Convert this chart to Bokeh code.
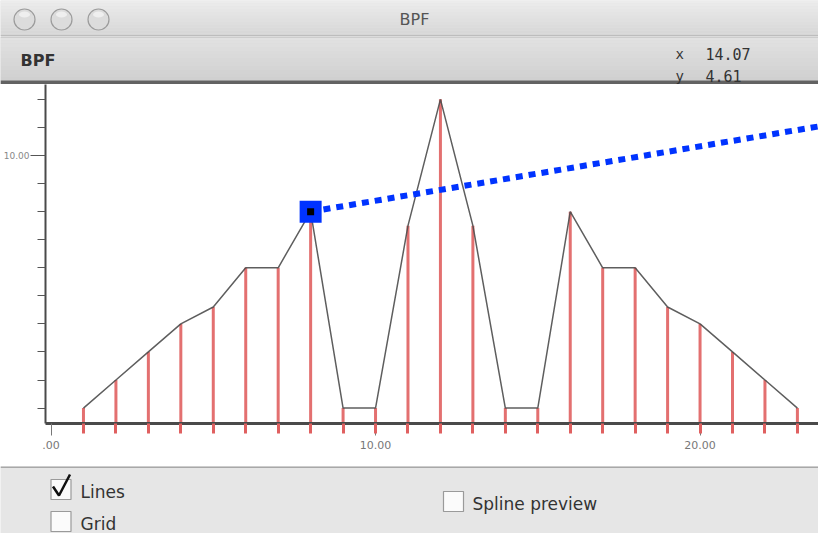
from bokeh.plotting import figure
from bokeh.layouts import column
from bokeh.models import Range1d, FixedTicker, PrintfTickFormatter
from bokeh.core.properties import value
from bokeh.embed import file_html
from bokeh.resources import INLINE

# ---------------- data ----------------
bpf_x = list(range(1, 24))
bpf_y = [1, 2, 3, 4, 4.6, 6, 6, 8, 1, 1, 7.5, 12, 7.5, 1, 1, 8, 6, 6, 4.6, 4, 3, 2, 1]
selected_index = 7
pointer_x = [8, 24.5]
pointer_y = [8, 11.2]
x_ticks = [0, 10, 20]
x_tick_overrides = {0: ".00"}
y_ticks = [10]
y_minor_ticks = list(range(1, 13))
window_title = ["BPF"]
header_title = ["BPF"]
cursor_names = ["x", "y"]
cursor_values = ["14.07", "4.61"]
checkbox_labels = ["Lines", "Grid", "Spline preview"]
checkbox_checked = [True, False, False]

W = 818
FONT = value("DejaVu Sans")
MONO = value("DejaVu Sans Mono")


def lerp_color(c0, c1, t):
    a = [int(c0[i:i + 2], 16) for i in (1, 3, 5)]
    b = [int(c1[i:i + 2], 16) for i in (1, 3, 5)]
    return "#%02x%02x%02x" % tuple(int(round(a[k] + (b[k] - a[k]) * t)) for k in range(3))


def chrome(top, bottom, bg):
    f = figure(width=W, height=bottom - top, x_range=Range1d(8, 8 + W),
               y_range=Range1d(bottom, top), min_border=0,
               x_axis_location=None, y_axis_location=None,
               toolbar_location=None, output_backend="svg", frame_align=False)
    f.grid.visible = False
    f.outline_line_color = None
    f.background_fill_color = bg
    f.border_fill_color = bg
    return f


def gradient(f, top, bottom, c0, c1, n=12):
    step = (bottom - top) / n
    tops = [top + i * step for i in range(n)]
    f.quad(left=8, right=8 + W, top=tops, bottom=[t + step for t in tops],
           fill_color=[lerp_color(c0, c1, i / (n - 1)) for i in range(n)], line_color=None)


# ---------------- title bar ----------------
t = chrome(8, 44, "#e4e4e4")
gradient(t, 8, 44, "#ececec", "#d6d6d6")
t.segment(x0=[8], y0=[43.5], x1=[8 + W], y1=[43.5], line_color="#a5a5a5", line_width=1)
t.circle(x=[32, 69, 106], y=[27, 27, 27], radius=10.5,
         fill_color="#dcdcdc", line_color="#9c9c9c", line_width=1.2)
t.ellipse(x=[32, 69, 106], y=[22, 22, 22], width=11, height=6,
          fill_color="#ffffff", fill_alpha=0.55, line_color=None)
t.text(x=[422], y=[27], text=window_title, text_font=FONT, text_font_size="16px",
       text_color="#555555", text_align="center", text_baseline="middle")

# ---------------- header ----------------
h = chrome(44, 92, "#d8d8d8")
gradient(h, 44, 88, "#e2e2e2", "#d0d0d0")
h.quad(left=8, right=8 + W, top=88, bottom=92, fill_color="#626262", line_color=None)
h.segment(x0=[8], y0=[44.5], x1=[8 + W], y1=[44.5], line_color="#b8b8b8", line_width=1)
h.text(x=[28], y=[68], text=header_title, text_font=FONT, text_font_size="16px",
       text_font_style="bold", text_color="#333333", text_align="left", text_baseline="middle")
h.text(x=[683, 683], y=[61, 83], text=cursor_names, text_font=MONO, text_font_size="14px",
       text_color="#333333", text_align="left", text_baseline="middle")
h.text(x=[713, 713], y=[61, 83], text=cursor_values, text_font=MONO, text_font_size="15px",
       text_color="#333333", text_align="left", text_baseline="middle")

# ---------------- main plot ----------------
p = figure(width=W, height=382, x_range=Range1d(-0.17, 23.65), y_range=Range1d(0.45, 12.53),
           min_border_left=44, min_border_right=0, min_border_top=0, min_border_bottom=43,
           toolbar_location=None, output_backend="svg", frame_align=False)
p.grid.visible = False
p.outline_line_color = None
p.background_fill_color = "white"
p.border_fill_color = "white"

xa = p.xaxis[0]
xa.ticker = FixedTicker(ticks=x_ticks, minor_ticks=bpf_x)
xa.formatter = PrintfTickFormatter(format="%.2f")
xa.major_label_overrides = x_tick_overrides
xa.axis_line_color = "#4a4a4a"
xa.axis_line_width = 3
xa.major_tick_in = 0
xa.major_tick_out = 12
xa.major_tick_line_color = "#777777"
xa.minor_tick_in = 0
xa.minor_tick_out = 10
xa.minor_tick_line_color = "#e06060"
xa.minor_tick_line_width = 3
xa.major_label_standoff = 5
xa.major_label_text_font = "DejaVu Sans"
xa.major_label_text_font_size = "11px"
xa.major_label_text_color = "#777777"

ya = p.yaxis[0]
ya.ticker = FixedTicker(ticks=y_ticks, minor_ticks=y_minor_ticks)
ya.formatter = PrintfTickFormatter(format="%.2f")
ya.axis_line_color = "#4a4a4a"
ya.axis_line_width = 2
ya.major_tick_in = 0
ya.major_tick_out = 15
ya.major_tick_line_color = "#555555"
ya.minor_tick_in = 0
ya.minor_tick_out = 8
ya.minor_tick_line_color = "#555555"
ya.major_label_standoff = 1
ya.major_label_text_font = "DejaVu Sans"
ya.major_label_text_font_size = "9px"
ya.major_label_text_color = "#888888"

p.segment(x0=bpf_x, y0=[0] * len(bpf_x), x1=bpf_x, y1=bpf_y,
          line_color="#e06060", line_width=3, line_alpha=0.9)
p.line(bpf_x, bpf_y, line_color="#4d4d4d", line_width=1.5, line_alpha=0.9)
p.line(pointer_x, pointer_y, line_color="#0033ff", line_width=6, line_dash="7 6", line_cap="butt")
p.scatter(x=[bpf_x[selected_index]], y=[bpf_y[selected_index]], marker="square",
          size=22, fill_color="#0033ff", line_color=None)
p.scatter(x=[bpf_x[selected_index]], y=[bpf_y[selected_index]], marker="square",
          size=7, fill_color="#000000", line_color=None)

# ---------------- bottom controls ----------------
b = chrome(474, 541, "#e6e6e6")
b.segment(x0=[8], y0=[474.5], x1=[8 + W], y1=[474.5], line_color="#a8a8a8", line_width=2)
box_x = [68.5, 68.5, 461]
box_y = [497, 529, 509]
b.rect(x=box_x, y=box_y, width=20, height=20, fill_color="#fbfbfb",
       line_color="#9a9a9a", line_width=1.2)
for bx, by, on in zip(box_x, box_y, checkbox_checked):
    if on:
        b.line(x=[bx - 8, bx - 2, bx + 9], y=[by - 3, by + 6, by - 15],
               line_color="#111111", line_width=2.5)
b.text(x=[88, 88, 480], y=[499, 531, 511], text=checkbox_labels, text_font=FONT,
       text_font_size="17px", text_color="#333333", text_align="left", text_baseline="middle")

layout = column(t, h, p, b, spacing=0)
open("out.html", "w").write(file_html(layout, INLINE))
